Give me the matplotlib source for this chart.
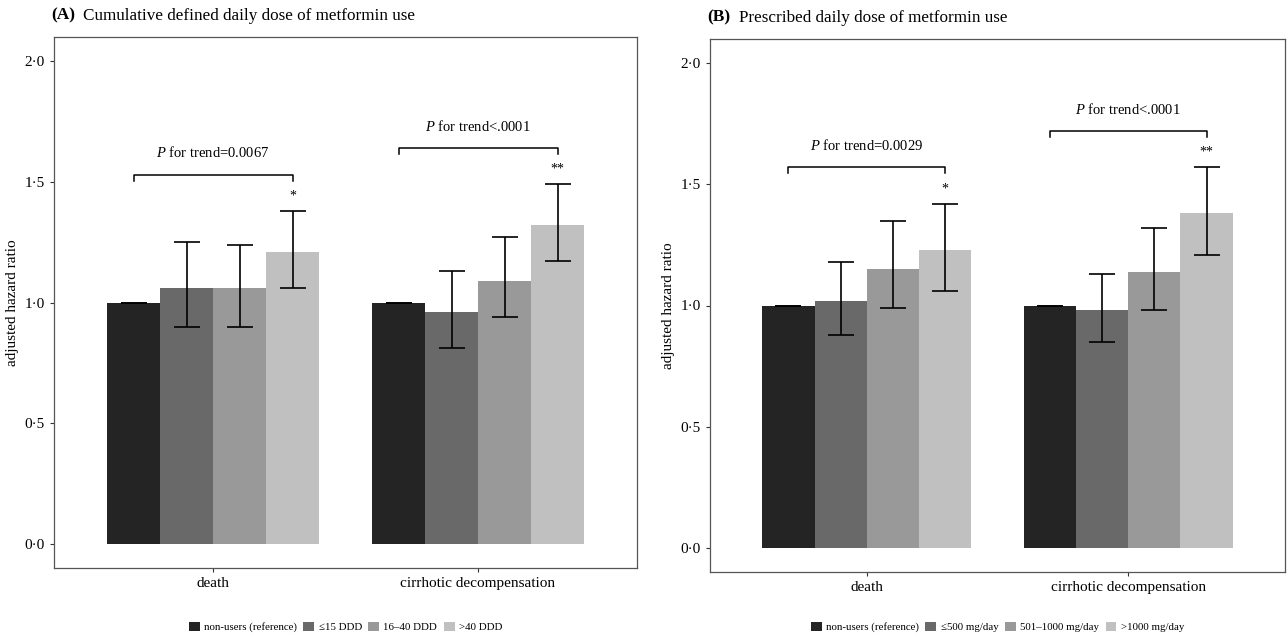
import numpy as np
import matplotlib
matplotlib.use("Agg")
import matplotlib.pyplot as plt
from matplotlib.patches import Patch
from matplotlib.ticker import FuncFormatter

plt.rcParams['font.family'] = ['Liberation Serif', 'DejaVu Serif']
plt.rcParams['mathtext.fontset'] = 'custom'
plt.rcParams['mathtext.rm'] = 'Liberation Serif'
plt.rcParams['mathtext.it'] = 'Liberation Serif:italic'

outcomes = ['death', 'cirrhotic decompensation']

# panel A: cumulative DDD
labels_a = ['non-users (reference)', '\u226415 DDD', '16\u201340 DDD', '>40 DDD']
hr_a = [[1.00, 1.06, 1.06, 1.21],
        [1.00, 0.96, 1.09, 1.32]]
lo_a = [[1.00, 0.90, 0.90, 1.06],
        [1.00, 0.81, 0.94, 1.17]]
hi_a = [[1.00, 1.25, 1.24, 1.38],
        [1.00, 1.13, 1.27, 1.49]]
ptrend_a = ['=0.0067', '<.0001']
stars_a = ['*', '**']

# panel B: prescribed daily dose
labels_b = ['non-users (reference)', '\u2264500 mg/day', '501\u20131000 mg/day', '>1000 mg/day']
hr_b = [[1.00, 1.02, 1.15, 1.23],
        [1.00, 0.98, 1.14, 1.38]]
lo_b = [[1.00, 0.88, 0.99, 1.06],
        [1.00, 0.85, 0.98, 1.21]]
hi_b = [[1.00, 1.18, 1.35, 1.42],
        [1.00, 1.13, 1.32, 1.57]]
ptrend_b = ['=0.0029', '<.0001']
stars_b = ['*', '**']

colors = ['#242424', '#696969', '#999999', '#c0c0c0']


def panel(fig, ax, title, labels, hr, lo, hi, ptrend, stars):
    w = 0.2
    offs = (np.arange(4) - 1.5) * w
    for g in range(len(outcomes)):
        xs = g + 1 + offs
        ax.bar(xs, hr[g], width=w, color=colors, linewidth=0)
        y = np.array(hr[g])
        err = [y - np.array(lo[g]), np.array(hi[g]) - y]
        ax.errorbar(xs, y, yerr=err, fmt='none', ecolor='black',
                    elinewidth=1.2, capsize=9.5, capthick=1.2)
        top = max(hi[g])
        ax.text(xs[3], hi[g][3] + 0.035, stars[g], ha='center', va='bottom', fontsize=10)
        yb = top + 0.15
        ax.plot([xs[0], xs[0], xs[3], xs[3]], [yb - 0.025, yb, yb, yb - 0.025],
                color='black', lw=1.1)
        ax.text((xs[0] + xs[3]) / 2, yb + 0.06, '$\\it{P}$ for trend' + ptrend[g],
                ha='center', va='bottom', fontsize=10.5)
    ax.set_xlim(0.4, 2.6)
    ax.set_ylim(-0.1, 2.1)
    ax.set_xticks([1, 2])
    ax.set_xticklabels(outcomes, fontsize=11)
    ax.set_yticks([0, 0.5, 1.0, 1.5, 2.0])
    ax.yaxis.set_major_formatter(FuncFormatter(lambda v, p: ('%.1f' % v).replace('.', '\u00b7')))
    ax.tick_params(axis='y', labelsize=11, length=3, color='#333333')
    ax.tick_params(axis='x', length=3, color='#333333')
    ax.set_ylabel('adjusted hazard ratio', fontsize=11)
    for s in ax.spines.values():
        s.set_color('#555555')
        s.set_linewidth(0.9)
    ax.text(-0.005, 1.025, title[0], transform=ax.transAxes, fontsize=12.5,
            fontweight='bold', ha='left', va='bottom')
    ax.text(0.05, 1.025, title[1], transform=ax.transAxes, fontsize=12.3,
            ha='left', va='bottom')
    handles = [Patch(facecolor=c, edgecolor='none') for c in colors]
    pos = ax.get_position()
    ax.legend(handles, labels, loc='center',
              bbox_to_anchor=((pos.x0 + pos.x1) / 2, 1 - 627 / 636),
              bbox_transform=fig.transFigure,
              ncol=4, frameon=False, fontsize=7.8, handlelength=1.0, handleheight=1.0,
              handletextpad=0.4, columnspacing=0.6)


fig = plt.figure(figsize=(12.87, 6.36), dpi=100)
ax1 = fig.add_axes([54 / 1287, 1 - 568 / 636, 583 / 1287, 531 / 636])
ax2 = fig.add_axes([710 / 1287, 1 - 572 / 636, 575 / 1287, 533 / 636])

panel(fig, ax1, ('(A)', 'Cumulative defined daily dose of metformin use'),
      labels_a, hr_a, lo_a, hi_a, ptrend_a, stars_a)
panel(fig, ax2, ('(B)', 'Prescribed daily dose of metformin use'),
      labels_b, hr_b, lo_b, hi_b, ptrend_b, stars_b)

fig.savefig('out.png', dpi=100)
